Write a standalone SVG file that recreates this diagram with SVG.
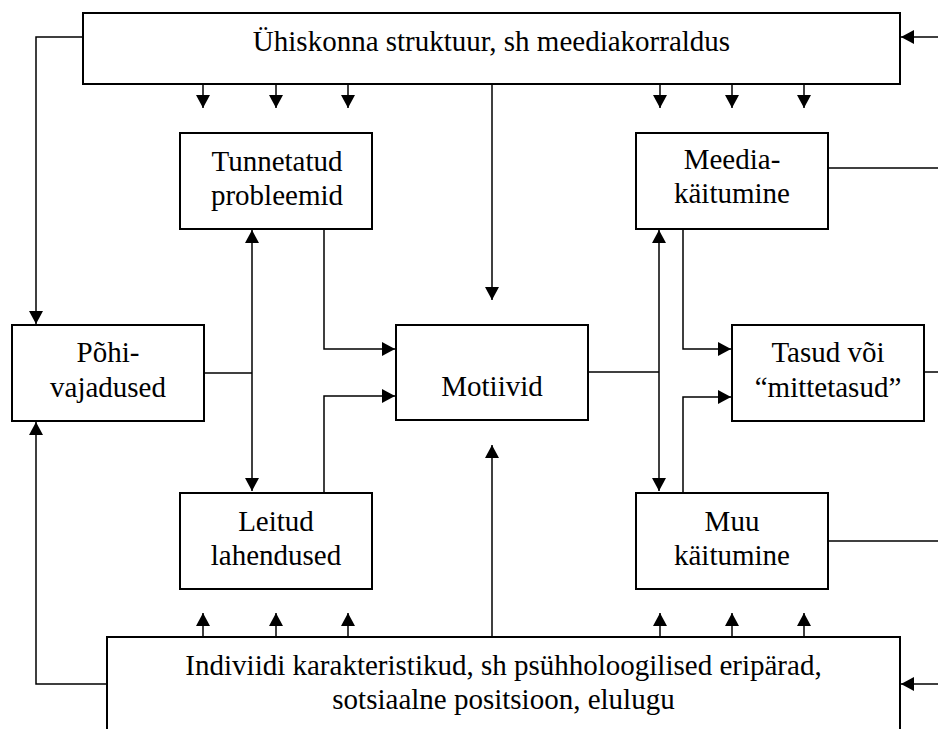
<svg xmlns="http://www.w3.org/2000/svg" width="938" height="729" viewBox="0 0 938 729">
<defs>
<marker id="ah" markerUnits="userSpaceOnUse" markerWidth="14" markerHeight="14" refX="13" refY="7" orient="auto-start-reverse">
<path d="M0,0 L13,7 L0,14 z" fill="#000"/>
</marker>
<style>
.box{fill:#fff;stroke:#000;stroke-width:2}
.ln{fill:none;stroke:#000;stroke-width:1.5}
.t{font-size:29px;fill:#000;text-anchor:middle}
</style>
</defs>
<rect width="938" height="729" fill="#fff"/>
<g id="connectors">
<path class="ln" d="M83,37 H36 V324" marker-end="url(#ah)"/>
<path class="ln" d="M107,684 H36 V422" marker-end="url(#ah)"/>
<path class="ln" d="M938,37 H901" marker-end="url(#ah)"/>
<path class="ln" d="M938,684 H901" marker-end="url(#ah)"/>
<path class="ln" d="M828,168 H938"/>
<path class="ln" d="M924,372 H938"/>
<path class="ln" d="M828,541 H938"/>
<path class="ln" d="M203,84 V108" marker-end="url(#ah)"/>
<path class="ln" d="M276,84 V108" marker-end="url(#ah)"/>
<path class="ln" d="M348,84 V108" marker-end="url(#ah)"/>
<path class="ln" d="M660,84 V108" marker-end="url(#ah)"/>
<path class="ln" d="M732,84 V108" marker-end="url(#ah)"/>
<path class="ln" d="M804,84 V108" marker-end="url(#ah)"/>
<path class="ln" d="M203,637 V613" marker-end="url(#ah)"/>
<path class="ln" d="M276,637 V613" marker-end="url(#ah)"/>
<path class="ln" d="M348,637 V613" marker-end="url(#ah)"/>
<path class="ln" d="M660,637 V613" marker-end="url(#ah)"/>
<path class="ln" d="M732,637 V613" marker-end="url(#ah)"/>
<path class="ln" d="M804,637 V613" marker-end="url(#ah)"/>
<path class="ln" d="M492,84 V300" marker-end="url(#ah)"/>
<path class="ln" d="M492,637 V445" marker-end="url(#ah)"/>
<path class="ln" d="M204,373 H252"/>
<path class="ln" d="M252,230 V491" marker-start="url(#ah)" marker-end="url(#ah)"/>
<path class="ln" d="M324,229 V349 H395" marker-end="url(#ah)"/>
<path class="ln" d="M324,493 V396 H395" marker-end="url(#ah)"/>
<path class="ln" d="M588,372 H659"/>
<path class="ln" d="M659,230 V491" marker-start="url(#ah)" marker-end="url(#ah)"/>
<path class="ln" d="M683,229 V349 H731" marker-end="url(#ah)"/>
<path class="ln" d="M683,493 V397 H731" marker-end="url(#ah)"/>
</g>
<g font-family="'Liberation Serif', 'Times New Roman', 'DejaVu Serif', serif">
<g id="uhiskond">
<rect class="box" x="83" y="13" width="817" height="71"/>
<text class="t" x="491.5" y="51">Ühiskonna struktuur, sh meediakorraldus</text>
</g>
<g id="tunnetatud">
<rect class="box" x="180" y="133" width="192" height="96"/>
<text class="t" x="277" y="170.5">Tunnetatud</text>
<text class="t" x="277" y="205">probleemid</text>
</g>
<g id="meedia">
<rect class="box" x="636" y="133" width="192" height="96"/>
<text class="t" x="732" y="168.5">Meedia-</text>
<text class="t" x="732" y="203">käitumine</text>
</g>
<g id="pohivajadused">
<rect class="box" x="12" y="325" width="192" height="96"/>
<text class="t" x="108" y="362">Põhi-</text>
<text class="t" x="108" y="396.5">vajadused</text>
</g>
<g id="motiivid">
<rect class="box" x="396" y="325" width="192" height="95"/>
<text class="t" x="492" y="396">Motiivid</text>
</g>
<g id="tasud">
<rect class="box" x="732" y="325" width="192" height="96"/>
<text class="t" x="828" y="361.5">Tasud või</text>
<text class="t" x="828" y="396.5">“mittetasud”</text>
</g>
<g id="leitud">
<rect class="box" x="180" y="493" width="192" height="96"/>
<text class="t" x="276" y="531">Leitud</text>
<text class="t" x="276" y="565">lahendused</text>
</g>
<g id="muu">
<rect class="box" x="636" y="493" width="192" height="96"/>
<text class="t" x="732" y="531">Muu</text>
<text class="t" x="732" y="564.5">käitumine</text>
</g>
<g id="indiviid">
<rect class="box" x="107" y="637" width="793" height="120"/>
<text class="t" x="503.5" y="675">Indiviidi karakteristikud, sh psühholoogilised eripärad,</text>
<text class="t" x="503.5" y="709">sotsiaalne positsioon, elulugu</text>
</g>
</g>
</svg>
